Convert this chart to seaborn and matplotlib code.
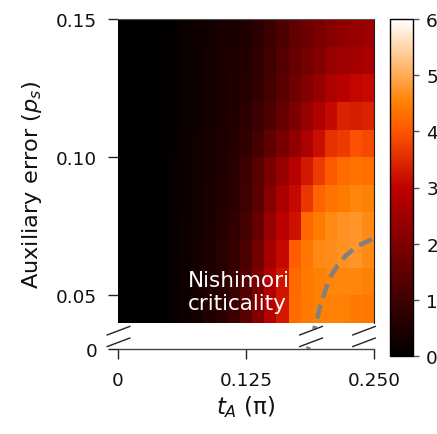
import matplotlib
matplotlib.use("Agg")
import matplotlib.pyplot as plt
import numpy as np
import pandas as pd
import seaborn as sns

# ---------------- data ----------------
t_A = [0.0, 0.0125, 0.025, 0.0375, 0.05, 0.0625, 0.075, 0.0875, 0.1, 0.1125, 0.125,
       0.1375, 0.15, 0.1625, 0.175, 0.1875, 0.2, 0.2125, 0.225, 0.2375, 0.25]
p_s = [0.145, 0.135, 0.125, 0.115, 0.105, 0.095, 0.085, 0.075, 0.065, 0.055, 0.045]

row_p145 = [0, 0, 0, 0.02, 0.08, 0.15, 0.22, 0.30, 0.38, 0.45, 0.50, 0.70, 0.95, 1.20, 1.50, 1.70, 1.90, 2.10, 2.25, 2.35, 2.45]
row_p135 = [0, 0, 0, 0.02, 0.08, 0.15, 0.23, 0.32, 0.40, 0.48, 0.55, 0.75, 1.00, 1.30, 1.60, 1.85, 2.05, 2.35, 2.50, 2.60, 2.65]
row_p125 = [0, 0, 0, 0.02, 0.08, 0.16, 0.24, 0.33, 0.42, 0.50, 0.60, 0.82, 1.10, 1.40, 1.75, 2.05, 2.35, 2.70, 2.90, 3.05, 3.10]
row_p115 = [0, 0, 0, 0.02, 0.09, 0.17, 0.25, 0.35, 0.45, 0.55, 0.68, 0.92, 1.25, 1.60, 1.95, 2.35, 2.75, 3.10, 3.40, 3.35, 3.40]
row_p105 = [0, 0, 0, 0.02, 0.09, 0.17, 0.26, 0.36, 0.47, 0.60, 0.80, 1.10, 1.50, 1.90, 2.25, 2.70, 3.15, 3.60, 3.70, 3.95, 3.85]
row_p095 = [0, 0, 0, 0.02, 0.10, 0.18, 0.27, 0.38, 0.50, 0.65, 0.95, 1.35, 1.90, 2.35, 2.90, 3.30, 3.70, 4.05, 4.25, 4.35, 4.30]
row_p085 = [0, 0, 0, 0.02, 0.10, 0.18, 0.28, 0.40, 0.55, 0.70, 1.00, 1.45, 2.10, 2.65, 3.10, 3.65, 4.15, 4.35, 4.45, 4.55, 4.50]
row_p075 = [0, 0, 0, 0.02, 0.10, 0.19, 0.30, 0.42, 0.60, 0.80, 1.10, 1.60, 2.35, 2.95, 3.20, 4.20, 4.45, 4.60, 4.70, 4.75, 4.60]
row_p065 = [0, 0, 0, 0.02, 0.10, 0.20, 0.30, 0.45, 0.62, 0.85, 1.20, 1.80, 2.60, 3.10, 4.10, 4.40, 4.60, 4.65, 4.70, 4.75, 4.60]
row_p055 = [0, 0, 0, 0.02, 0.10, 0.20, 0.32, 0.48, 0.65, 0.90, 1.30, 1.95, 2.80, 3.25, 4.20, 4.45, 4.50, 4.55, 4.55, 4.55, 4.50]
row_p045 = [0, 0, 0, 0.02, 0.10, 0.20, 0.33, 0.50, 0.70, 0.95, 1.40, 2.05, 2.85, 3.30, 4.25, 4.45, 4.50, 4.50, 4.50, 4.45, 4.40]

# Nishimori critical line
crit_t = [0.248, 0.2334, 0.2217, 0.2139, 0.2070, 0.2021, 0.1973, 0.1943, 0.1924, 0.1855]
crit_p = [0.0703, 0.0678, 0.0641, 0.0605, 0.0565, 0.0514, 0.0460, 0.0413, 0.0388, 0.0]

x_ticks = [0.0, 0.125, 0.25]
x_ticklabels = ["0", "0.125", "0.250"]
y_ticks = [0.15, 0.10, 0.05, 0.0]
y_ticklabels = ["0.15", "0.10", "0.05", "0"]
cbar_ticks = [0, 1, 2, 3, 4, 5, 6]

# ---------------- style ----------------
sns.set_theme(style="white")
plt.rcParams["font.family"] = ["DejaVu Sans"]
plt.rcParams["mathtext.fontset"] = "dejavusans"

values = pd.DataFrame(
    [row_p145, row_p135, row_p125, row_p115, row_p105, row_p095,
     row_p085, row_p075, row_p065, row_p055, row_p045],
    index=p_s, columns=t_A)

n_rows, n_cols = values.shape
T_MAX = 0.25
P_TOP = 0.15
P_STEP = 0.01
Y_ZERO = n_rows + 0.94  # broken-axis position of p_s = 0


def xpos(t):
    return t / T_MAX * n_cols


def ypos(p):
    return Y_ZERO if p == 0 else (P_TOP - p) / P_STEP


fig = plt.figure(figsize=(4.37, 4.35), dpi=100)
ax = fig.add_axes([118 / 437, 1 - 350 / 435, 256 / 437, 330 / 435])
cax = fig.add_axes([390 / 437, 1 - 357 / 435, 23 / 437, 337 / 435])

sns.heatmap(values, ax=ax, cmap="gist_heat", vmin=0, vmax=6, cbar_ax=cax,
            xticklabels=False, yticklabels=False,
            cbar_kws={"ticks": cbar_ticks})

ax.set_xlim(0, n_cols)
ax.set_ylim(Y_ZERO, 0)

# hide the dashed line inside the axis break
ax.axhspan(n_rows + 0.22, n_rows + 0.78, color="white", zorder=3)

ax.plot([xpos(t) for t in crit_t], [ypos(p) for p in crit_p],
        color="#808080", lw=3.2, dashes=(3.2, 1.7), solid_capstyle="butt",
        dash_capstyle="butt", zorder=2, clip_on=True)

ax.text(xpos(0.0684), ypos(0.0515), "Nishimori\ncriticality", color="white",
        fontsize=15.5, ha="left", va="center", linespacing=1.2, zorder=4)

ax.set_xticks([xpos(t) for t in x_ticks])
ax.set_xticklabels(x_ticklabels)
ax.set_yticks([ypos(p) for p in y_ticks])
ax.set_yticklabels(y_ticklabels, rotation=0)
ax.tick_params(axis="both", which="both", direction="out", length=7, width=1,
               color="#222222", labelsize=13.3, labelcolor="#111111")
ax.tick_params(axis="y", pad=8)
ax.tick_params(axis="x", pad=9)
ax.tick_params(bottom=True, left=True)

for side in ["top", "right", "bottom", "left"]:
    ax.spines[side].set_visible(False)
ax.spines["bottom"].set_visible(True)
ax.spines["bottom"].set_color("#444444")
ax.spines["bottom"].set_linewidth(1)
ax.spines["top"].set_visible(True)
ax.spines["top"].set_color("#555555")
ax.spines["top"].set_linewidth(0.8)
ax.spines["right"].set_visible(True)
ax.spines["right"].set_bounds(0, n_rows)
ax.spines["right"].set_color("#222222")
ax.spines["right"].set_linewidth(0.8)

ax.set_xlabel("$t_A$ (π)", fontsize=16.5, labelpad=3, color="#111111")
ax.set_ylabel("Auxiliary error ($p_s$)", fontsize=16.2, labelpad=9, color="#111111")

# break marks
bk = dict(color="#222222", lw=1, transform=ax.transAxes, clip_on=False, zorder=5)
for cx in [0.002, 0.754, 0.961]:
    for cy in [0.0555, 0.0203]:
        ax.plot([cx - 0.045, cx + 0.045], [cy - 0.0132, cy + 0.0132], **bk)

# colorbar
cax.tick_params(length=4.5, width=1, color="#555555", labelsize=13.3, pad=5,
                labelcolor="#111111")
cb = ax.collections[0].colorbar
cb.outline.set_visible(True)
cb.outline.set_edgecolor("black")
cb.outline.set_linewidth(1)

fig.savefig("out.png", dpi=100)
